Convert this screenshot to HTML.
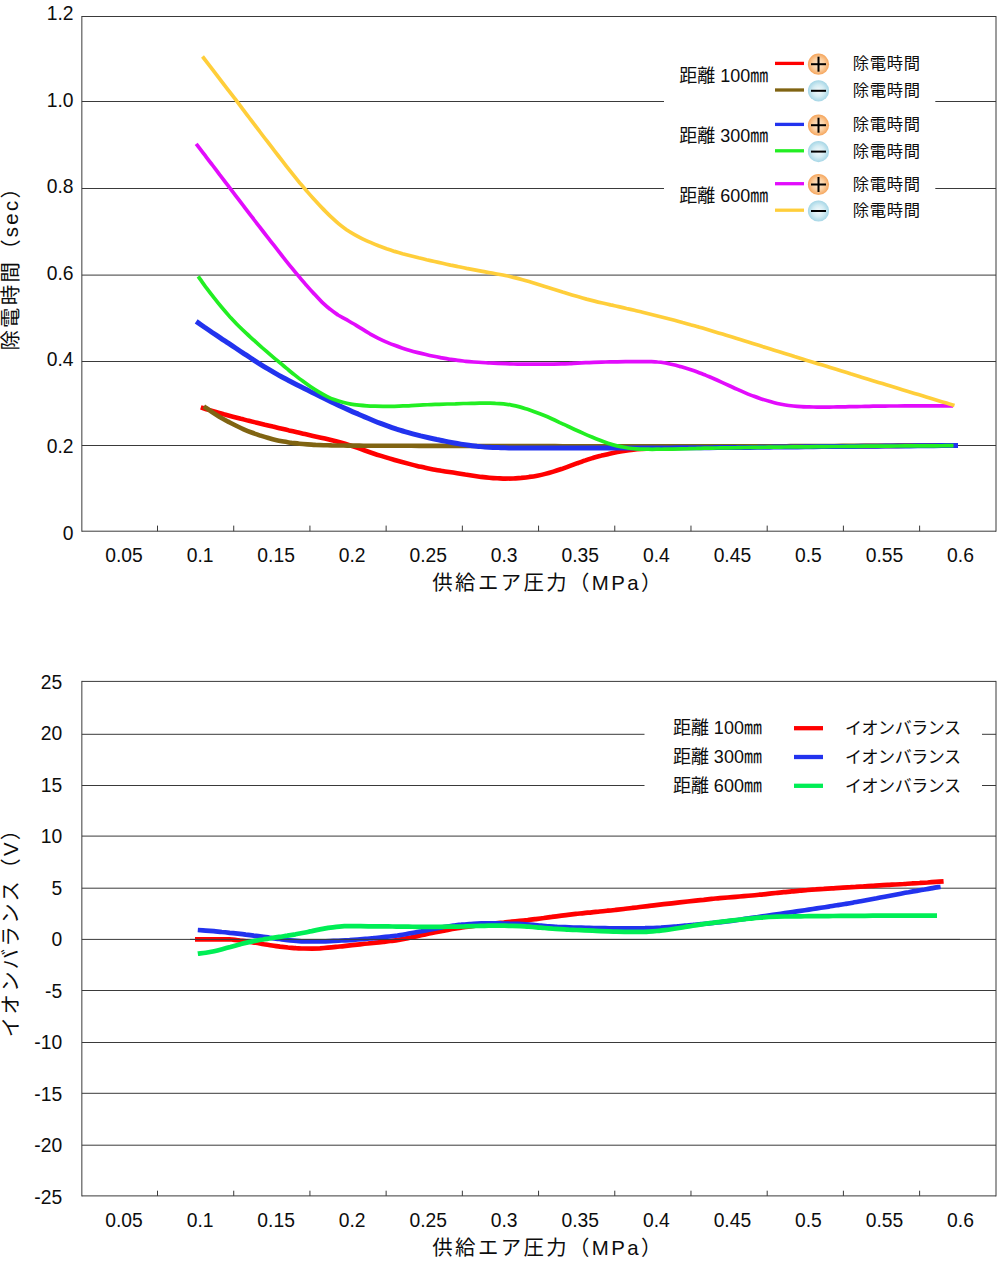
<!DOCTYPE html>
<html><head><meta charset="utf-8"><title>chart</title>
<style>
html,body{margin:0;padding:0;background:#fff;}
body{width:1000px;height:1265px;overflow:hidden;font-family:"Liberation Sans",sans-serif;}
svg{display:block;}
</style></head><body>
<svg width="1000" height="1265" viewBox="0 0 1000 1265">
<defs><radialGradient id="gp" cx="50%" cy="50%" r="50%"><stop offset="0" stop-color="#fee9d2"/><stop offset="0.55" stop-color="#fbd0a2"/><stop offset="1" stop-color="#f5a55c"/></radialGradient><radialGradient id="gm" cx="50%" cy="50%" r="50%"><stop offset="0" stop-color="#f5fbfd"/><stop offset="0.55" stop-color="#d4ecf3"/><stop offset="1" stop-color="#a5d6e6"/></radialGradient></defs>
<rect width="1000" height="1265" fill="#fff"/>
<line x1="81.85" y1="16.50" x2="996.00" y2="16.50" stroke="#3a3a3a" stroke-width="1.00"/>
<line x1="81.85" y1="101.50" x2="996.00" y2="101.50" stroke="#3a3a3a" stroke-width="1.00"/>
<line x1="81.85" y1="188.50" x2="996.00" y2="188.50" stroke="#3a3a3a" stroke-width="1.00"/>
<line x1="81.85" y1="275.10" x2="996.00" y2="275.10" stroke="#3a3a3a" stroke-width="1.00"/>
<line x1="81.85" y1="361.50" x2="996.00" y2="361.50" stroke="#3a3a3a" stroke-width="1.00"/>
<line x1="81.85" y1="445.50" x2="996.00" y2="445.50" stroke="#3a3a3a" stroke-width="1.00"/>
<line x1="81.85" y1="531.20" x2="996.00" y2="531.20" stroke="#3a3a3a" stroke-width="1.00"/>
<line x1="81.85" y1="16.00" x2="81.85" y2="531.70" stroke="#3a3a3a" stroke-width="1.00"/>
<line x1="996.00" y1="16.00" x2="996.00" y2="531.70" stroke="#3a3a3a" stroke-width="1.00"/>
<line x1="157.51" y1="525.60" x2="157.51" y2="531.20" stroke="#3a3a3a" stroke-width="1.00"/>
<line x1="233.72" y1="525.60" x2="233.72" y2="531.20" stroke="#3a3a3a" stroke-width="1.00"/>
<line x1="309.93" y1="525.60" x2="309.93" y2="531.20" stroke="#3a3a3a" stroke-width="1.00"/>
<line x1="386.14" y1="525.60" x2="386.14" y2="531.20" stroke="#3a3a3a" stroke-width="1.00"/>
<line x1="462.35" y1="525.60" x2="462.35" y2="531.20" stroke="#3a3a3a" stroke-width="1.00"/>
<line x1="538.56" y1="525.60" x2="538.56" y2="531.20" stroke="#3a3a3a" stroke-width="1.00"/>
<line x1="614.77" y1="525.60" x2="614.77" y2="531.20" stroke="#3a3a3a" stroke-width="1.00"/>
<line x1="690.98" y1="525.60" x2="690.98" y2="531.20" stroke="#3a3a3a" stroke-width="1.00"/>
<line x1="767.19" y1="525.60" x2="767.19" y2="531.20" stroke="#3a3a3a" stroke-width="1.00"/>
<line x1="843.40" y1="525.60" x2="843.40" y2="531.20" stroke="#3a3a3a" stroke-width="1.00"/>
<line x1="919.61" y1="525.60" x2="919.61" y2="531.20" stroke="#3a3a3a" stroke-width="1.00"/>
<line x1="81.85" y1="681.40" x2="996.00" y2="681.40" stroke="#3a3a3a" stroke-width="1.00"/>
<line x1="81.85" y1="734.30" x2="996.00" y2="734.30" stroke="#3a3a3a" stroke-width="1.00"/>
<line x1="81.85" y1="785.50" x2="996.00" y2="785.50" stroke="#3a3a3a" stroke-width="1.00"/>
<line x1="81.85" y1="836.10" x2="996.00" y2="836.10" stroke="#3a3a3a" stroke-width="1.00"/>
<line x1="81.85" y1="888.20" x2="996.00" y2="888.20" stroke="#3a3a3a" stroke-width="1.00"/>
<line x1="81.85" y1="939.40" x2="996.00" y2="939.40" stroke="#3a3a3a" stroke-width="1.00"/>
<line x1="81.85" y1="990.50" x2="996.00" y2="990.50" stroke="#3a3a3a" stroke-width="1.00"/>
<line x1="81.85" y1="1042.50" x2="996.00" y2="1042.50" stroke="#3a3a3a" stroke-width="1.00"/>
<line x1="81.85" y1="1093.30" x2="996.00" y2="1093.30" stroke="#3a3a3a" stroke-width="1.00"/>
<line x1="81.85" y1="1145.20" x2="996.00" y2="1145.20" stroke="#3a3a3a" stroke-width="1.00"/>
<line x1="81.85" y1="1195.90" x2="996.00" y2="1195.90" stroke="#3a3a3a" stroke-width="1.00"/>
<line x1="81.85" y1="680.90" x2="81.85" y2="1196.40" stroke="#3a3a3a" stroke-width="1.00"/>
<line x1="996.00" y1="680.90" x2="996.00" y2="1196.40" stroke="#3a3a3a" stroke-width="1.00"/>
<line x1="157.51" y1="1190.70" x2="157.51" y2="1195.90" stroke="#3a3a3a" stroke-width="1.00"/>
<line x1="233.72" y1="1190.70" x2="233.72" y2="1195.90" stroke="#3a3a3a" stroke-width="1.00"/>
<line x1="309.93" y1="1190.70" x2="309.93" y2="1195.90" stroke="#3a3a3a" stroke-width="1.00"/>
<line x1="386.14" y1="1190.70" x2="386.14" y2="1195.90" stroke="#3a3a3a" stroke-width="1.00"/>
<line x1="462.35" y1="1190.70" x2="462.35" y2="1195.90" stroke="#3a3a3a" stroke-width="1.00"/>
<line x1="538.56" y1="1190.70" x2="538.56" y2="1195.90" stroke="#3a3a3a" stroke-width="1.00"/>
<line x1="614.77" y1="1190.70" x2="614.77" y2="1195.90" stroke="#3a3a3a" stroke-width="1.00"/>
<line x1="690.98" y1="1190.70" x2="690.98" y2="1195.90" stroke="#3a3a3a" stroke-width="1.00"/>
<line x1="767.19" y1="1190.70" x2="767.19" y2="1195.90" stroke="#3a3a3a" stroke-width="1.00"/>
<line x1="843.40" y1="1190.70" x2="843.40" y2="1195.90" stroke="#3a3a3a" stroke-width="1.00"/>
<line x1="919.61" y1="1190.70" x2="919.61" y2="1195.90" stroke="#3a3a3a" stroke-width="1.00"/>
<g fill="#0d0d0d" font-family="'Liberation Sans', sans-serif" font-size="19.3"><text x="124.0" y="562.2" text-anchor="middle">0.05</text><text x="124.0" y="1227.2" text-anchor="middle">0.05</text><text x="200.1" y="562.2" text-anchor="middle">0.1</text><text x="200.1" y="1227.2" text-anchor="middle">0.1</text><text x="276.1" y="562.2" text-anchor="middle">0.15</text><text x="276.1" y="1227.2" text-anchor="middle">0.15</text><text x="352.1" y="562.2" text-anchor="middle">0.2</text><text x="352.1" y="1227.2" text-anchor="middle">0.2</text><text x="428.2" y="562.2" text-anchor="middle">0.25</text><text x="428.2" y="1227.2" text-anchor="middle">0.25</text><text x="504.2" y="562.2" text-anchor="middle">0.3</text><text x="504.2" y="1227.2" text-anchor="middle">0.3</text><text x="580.3" y="562.2" text-anchor="middle">0.35</text><text x="580.3" y="1227.2" text-anchor="middle">0.35</text><text x="656.4" y="562.2" text-anchor="middle">0.4</text><text x="656.4" y="1227.2" text-anchor="middle">0.4</text><text x="732.4" y="562.2" text-anchor="middle">0.45</text><text x="732.4" y="1227.2" text-anchor="middle">0.45</text><text x="808.4" y="562.2" text-anchor="middle">0.5</text><text x="808.4" y="1227.2" text-anchor="middle">0.5</text><text x="884.5" y="562.2" text-anchor="middle">0.55</text><text x="884.5" y="1227.2" text-anchor="middle">0.55</text><text x="960.5" y="562.2" text-anchor="middle">0.6</text><text x="960.5" y="1227.2" text-anchor="middle">0.6</text><text x="73.5" y="20.0" text-anchor="end">1.2</text><text x="73.5" y="106.6" text-anchor="end">1.0</text><text x="73.5" y="193.2" text-anchor="end">0.8</text><text x="73.5" y="279.8" text-anchor="end">0.6</text><text x="73.5" y="366.4" text-anchor="end">0.4</text><text x="73.5" y="453.0" text-anchor="end">0.2</text><text x="73.5" y="539.6" text-anchor="end">0</text><text x="62.2" y="688.7" text-anchor="end">25</text><text x="62.2" y="740.2" text-anchor="end">20</text><text x="62.2" y="791.7" text-anchor="end">15</text><text x="62.2" y="843.2" text-anchor="end">10</text><text x="62.2" y="894.7" text-anchor="end">5</text><text x="62.2" y="946.2" text-anchor="end">0</text><text x="62.2" y="997.7" text-anchor="end">-5</text><text x="62.2" y="1049.2" text-anchor="end">-10</text><text x="62.2" y="1100.7" text-anchor="end">-15</text><text x="62.2" y="1152.2" text-anchor="end">-20</text><text x="62.2" y="1203.7" text-anchor="end">-25</text></g>
<path d="M200.8 407.4C202.1 407.8 206.1 409.1 208.8 409.9C211.5 410.7 214.2 411.5 216.8 412.3C219.5 413.1 222.2 413.8 224.8 414.6C227.5 415.3 230.2 416.0 232.9 416.7C235.5 417.4 238.2 418.1 240.9 418.8C243.5 419.4 246.2 420.1 248.9 420.7C251.5 421.4 254.2 422.1 256.9 422.7C259.6 423.4 262.2 424.0 264.9 424.7C267.6 425.3 270.2 425.9 272.9 426.6C275.6 427.2 278.3 427.9 280.9 428.5C283.6 429.1 286.3 429.7 288.9 430.4C291.6 431.0 294.3 431.6 297.0 432.2C299.6 432.8 302.3 433.5 305.0 434.1C307.6 434.7 310.3 435.3 313.0 435.9C315.6 436.5 318.3 437.1 321.0 437.7C323.7 438.3 326.3 438.9 329.0 439.5C331.7 440.2 334.3 440.8 337.0 441.5C339.7 442.2 342.4 443.0 345.0 443.8C347.7 444.6 350.4 445.5 353.0 446.4C355.7 447.3 358.4 448.2 361.1 449.2C363.7 450.1 366.4 451.1 369.1 452.0C371.7 452.9 374.4 453.8 377.1 454.7C379.8 455.5 382.4 456.3 385.1 457.1C387.8 458.0 390.4 458.8 393.1 459.5C395.8 460.3 398.4 461.1 401.1 461.8C403.8 462.5 406.5 463.2 409.1 463.9C411.8 464.6 414.5 465.3 417.1 465.9C419.8 466.5 422.5 467.2 425.2 467.8C427.8 468.4 430.5 468.9 433.2 469.4C435.8 469.9 438.5 470.3 441.2 470.8C443.9 471.2 446.5 471.6 449.2 472.0C451.9 472.4 454.5 472.8 457.2 473.2C459.9 473.6 462.6 474.0 465.2 474.5C467.9 474.9 470.6 475.3 473.2 475.7C475.9 476.1 478.6 476.5 481.2 476.9C483.9 477.2 486.6 477.5 489.3 477.7C491.9 478.0 494.6 478.2 497.3 478.3C499.9 478.4 502.6 478.6 505.3 478.6C508.0 478.6 510.6 478.6 513.3 478.5C516.0 478.4 518.6 478.1 521.3 477.9C524.0 477.6 526.7 477.3 529.3 476.9C532.0 476.6 534.7 476.2 537.3 475.7C540.0 475.2 542.7 474.6 545.3 473.9C548.0 473.2 550.7 472.4 553.4 471.6C556.0 470.8 558.7 469.9 561.4 469.0C564.0 468.1 566.7 467.2 569.4 466.2C572.1 465.2 574.7 464.2 577.4 463.2C580.1 462.3 582.7 461.3 585.4 460.4C588.1 459.4 590.8 458.6 593.4 457.8C596.1 457.0 598.8 456.3 601.4 455.6C604.1 455.0 606.8 454.3 609.5 453.7C612.1 453.1 614.8 452.6 617.5 452.1C620.1 451.6 622.8 451.1 625.5 450.7C628.1 450.3 630.8 450.0 633.5 449.7C636.2 449.4 638.8 449.2 641.5 449.0C644.2 448.8 646.8 448.6 649.5 448.5C652.2 448.3 654.9 448.2 657.5 448.1C660.2 448.0 662.9 447.9 665.5 447.8C668.2 447.7 670.9 447.6 673.6 447.6C676.2 447.5 678.9 447.4 681.6 447.4C684.2 447.3 686.9 447.3 689.6 447.2C692.2 447.2 694.9 447.1 697.6 447.1C700.3 447.0 702.9 447.0 705.6 446.9C708.3 446.9 710.9 446.8 713.6 446.8C716.3 446.8 719.0 446.7 721.6 446.7C724.3 446.6 727.0 446.6 729.6 446.6C732.3 446.5 735.0 446.5 737.7 446.5C740.3 446.4 743.0 446.4 745.7 446.4C748.3 446.4 751.0 446.4 753.7 446.3C756.4 446.3 759.0 446.3 761.7 446.3C764.4 446.3 767.0 446.3 769.7 446.3C772.4 446.3 775.0 446.3 777.7 446.3C780.4 446.3 783.1 446.3 785.7 446.3C788.4 446.3 791.1 446.3 793.7 446.3C796.4 446.3 799.1 446.3 801.8 446.3C804.4 446.3 807.1 446.3 809.8 446.3C812.4 446.3 815.1 446.3 817.8 446.3C820.5 446.3 823.1 446.3 825.8 446.3C828.5 446.3 831.1 446.3 833.8 446.3C836.5 446.3 839.2 446.3 841.8 446.3C844.5 446.2 847.2 446.2 849.8 446.2C852.5 446.2 855.2 446.2 857.8 446.2C860.5 446.2 863.2 446.2 865.9 446.1C868.5 446.1 871.2 446.1 873.9 446.1C876.5 446.1 879.2 446.1 881.9 446.0C884.6 446.0 887.2 446.0 889.9 446.0C892.6 446.0 895.2 445.9 897.9 445.9C900.6 445.9 903.3 445.9 905.9 445.8C908.6 445.8 911.3 445.8 913.9 445.8C916.6 445.7 919.3 445.7 921.9 445.7C924.6 445.6 927.3 445.6 930.0 445.6C932.6 445.6 935.3 445.5 938.0 445.5C940.6 445.5 943.3 445.4 946.0 445.4C948.7 445.4 952.7 445.3 954.0 445.3" fill="none" stroke="#ff0000" stroke-width="4.60" stroke-linecap="butt" stroke-linejoin="round"/>
<path d="M203.8 406.3C205.1 407.2 209.1 410.1 211.7 411.9C214.4 413.7 217.1 415.4 219.7 417.0C222.4 418.5 225.0 419.9 227.7 421.4C230.4 422.8 233.0 424.2 235.7 425.5C238.3 426.8 241.0 428.1 243.7 429.3C246.3 430.4 249.0 431.5 251.6 432.5C254.3 433.5 257.0 434.4 259.6 435.3C262.3 436.2 264.9 437.1 267.6 437.8C270.3 438.6 272.9 439.4 275.6 440.0C278.2 440.6 280.9 441.1 283.6 441.6C286.2 442.1 288.9 442.4 291.5 442.8C294.2 443.1 296.9 443.5 299.5 443.7C302.2 444.0 304.8 444.2 307.5 444.4C310.2 444.6 312.8 444.7 315.5 444.9C318.1 445.0 320.8 445.1 323.5 445.2C326.1 445.3 328.8 445.3 331.5 445.4C334.1 445.4 336.8 445.5 339.4 445.5C342.1 445.5 344.8 445.6 347.4 445.6C350.1 445.6 352.7 445.6 355.4 445.6C358.1 445.6 360.7 445.7 363.4 445.7C366.0 445.7 368.7 445.7 371.4 445.7C374.0 445.7 376.7 445.7 379.3 445.7C382.0 445.7 384.7 445.8 387.3 445.8C390.0 445.8 392.6 445.8 395.3 445.8C398.0 445.8 400.6 445.8 403.3 445.8C405.9 445.8 408.6 445.8 411.3 445.8C413.9 445.8 416.6 445.8 419.2 445.9C421.9 445.9 424.6 445.9 427.2 445.9C429.9 445.9 432.5 445.9 435.2 445.9C437.9 445.9 440.5 445.9 443.2 445.9C445.9 445.9 448.5 445.9 451.2 445.9C453.8 445.9 456.5 445.9 459.2 445.9C461.8 445.9 464.5 446.0 467.1 446.0C469.8 446.0 472.5 446.0 475.1 446.0C477.8 446.0 480.4 446.0 483.1 446.0C485.8 446.0 488.4 446.0 491.1 446.0C493.7 446.0 496.4 446.0 499.1 446.0C501.7 446.0 504.4 446.0 507.0 446.0C509.7 446.1 512.4 446.1 515.0 446.1C517.7 446.1 520.3 446.1 523.0 446.1C525.7 446.1 528.3 446.1 531.0 446.1C533.6 446.1 536.3 446.1 539.0 446.1C541.6 446.1 544.3 446.1 546.9 446.1C549.6 446.1 552.3 446.1 554.9 446.1C557.6 446.2 560.3 446.2 562.9 446.2C565.6 446.2 568.2 446.2 570.9 446.2C573.6 446.2 576.2 446.2 578.9 446.2C581.5 446.2 584.2 446.2 586.9 446.2C589.5 446.2 592.2 446.2 594.8 446.2C597.5 446.2 600.2 446.2 602.8 446.2C605.5 446.2 608.1 446.2 610.8 446.2C613.5 446.2 616.1 446.2 618.8 446.2C621.4 446.2 624.1 446.3 626.8 446.3C629.4 446.3 632.1 446.3 634.7 446.3C637.4 446.3 640.1 446.3 642.7 446.3C645.4 446.3 648.0 446.3 650.7 446.3C653.4 446.3 656.0 446.3 658.7 446.3C661.3 446.3 664.0 446.3 666.7 446.3C669.3 446.3 672.0 446.3 674.7 446.3C677.3 446.3 680.0 446.3 682.6 446.3C685.3 446.3 688.0 446.3 690.6 446.3C693.3 446.3 695.9 446.3 698.6 446.3C701.3 446.3 703.9 446.3 706.6 446.3C709.2 446.3 711.9 446.3 714.6 446.3C717.2 446.3 719.9 446.3 722.5 446.3C725.2 446.3 727.9 446.3 730.5 446.3C733.2 446.3 735.8 446.3 738.5 446.3C741.2 446.3 743.8 446.3 746.5 446.3C749.1 446.3 751.8 446.2 754.5 446.2C757.1 446.2 759.8 446.2 762.4 446.2C765.1 446.2 767.8 446.2 770.4 446.2C773.1 446.2 775.7 446.2 778.4 446.2C781.1 446.2 783.7 446.2 786.4 446.2C789.1 446.2 791.7 446.1 794.4 446.1C797.0 446.1 799.7 446.1 802.4 446.1C805.0 446.1 807.7 446.1 810.3 446.1C813.0 446.1 815.7 446.1 818.3 446.0C821.0 446.0 823.6 446.0 826.3 446.0C829.0 446.0 831.6 446.0 834.3 446.0C836.9 446.0 839.6 446.0 842.3 445.9C844.9 445.9 847.6 445.9 850.2 445.9C852.9 445.9 855.6 445.9 858.2 445.9C860.9 445.9 863.5 445.8 866.2 445.8C868.9 445.8 871.5 445.8 874.2 445.8C876.8 445.8 879.5 445.8 882.2 445.7C884.8 445.7 887.5 445.7 890.1 445.7C892.8 445.7 895.5 445.7 898.1 445.6C900.8 445.6 903.5 445.6 906.1 445.6C908.8 445.6 911.4 445.6 914.1 445.6C916.8 445.5 919.4 445.5 922.1 445.5C924.7 445.5 927.4 445.5 930.1 445.5C932.7 445.4 935.4 445.4 938.0 445.4C940.7 445.4 943.4 445.4 946.0 445.4C948.7 445.3 952.7 445.3 954.0 445.3" fill="none" stroke="#806412" stroke-width="4.60" stroke-linecap="butt" stroke-linejoin="round"/>
<path d="M196.2 321.4C197.5 322.3 201.5 325.1 204.2 327.0C206.9 328.8 209.6 330.6 212.2 332.5C214.9 334.3 217.6 336.1 220.3 337.9C222.9 339.7 225.6 341.4 228.3 343.2C230.9 345.0 233.6 346.8 236.3 348.5C239.0 350.3 241.6 352.1 244.3 353.9C247.0 355.6 249.7 357.4 252.3 359.1C255.0 360.9 257.7 362.6 260.4 364.3C263.0 366.0 265.7 367.6 268.4 369.2C271.0 370.8 273.7 372.4 276.4 373.9C279.1 375.4 281.7 376.9 284.4 378.3C287.1 379.8 289.8 381.1 292.4 382.5C295.1 383.9 297.8 385.3 300.4 386.6C303.1 388.0 305.8 389.3 308.5 390.6C311.1 392.0 313.8 393.3 316.5 394.6C319.2 396.0 321.8 397.3 324.5 398.6C327.2 399.9 329.8 401.2 332.5 402.5C335.2 403.7 337.9 405.0 340.5 406.2C343.2 407.5 345.9 408.7 348.6 409.9C351.2 411.1 353.9 412.3 356.6 413.4C359.3 414.6 361.9 415.8 364.6 416.9C367.3 418.0 369.9 419.1 372.6 420.2C375.3 421.3 378.0 422.4 380.6 423.4C383.3 424.4 386.0 425.4 388.7 426.3C391.3 427.3 394.0 428.2 396.7 429.1C399.3 429.9 402.0 430.8 404.7 431.6C407.4 432.4 410.0 433.1 412.7 433.8C415.4 434.5 418.1 435.2 420.7 435.9C423.4 436.5 426.1 437.1 428.7 437.7C431.4 438.3 434.1 438.9 436.8 439.5C439.4 440.0 442.1 440.6 444.8 441.1C447.5 441.7 450.1 442.2 452.8 442.7C455.5 443.2 458.2 443.7 460.8 444.1C463.5 444.5 466.2 444.9 468.8 445.3C471.5 445.7 474.2 446.0 476.9 446.3C479.5 446.5 482.2 446.8 484.9 447.0C487.6 447.1 490.2 447.3 492.9 447.4C495.6 447.6 498.2 447.6 500.9 447.7C503.6 447.8 506.3 447.8 508.9 447.9C511.6 447.9 514.3 447.9 517.0 448.0C519.6 448.0 522.3 448.0 525.0 448.0C527.6 448.0 530.3 448.0 533.0 448.0C535.7 448.0 538.3 448.0 541.0 448.0C543.7 448.0 546.4 448.0 549.0 448.0C551.7 448.0 554.4 448.0 557.1 448.0C559.7 448.0 562.4 448.0 565.1 448.0C567.7 448.0 570.4 448.0 573.1 448.0C575.8 448.0 578.4 448.0 581.1 448.0C583.8 448.0 586.5 448.0 589.1 448.0C591.8 448.0 594.5 448.0 597.1 448.0C599.8 448.0 602.5 448.0 605.2 448.0C607.8 448.0 610.5 448.0 613.2 448.0C615.9 448.0 618.5 448.0 621.2 448.0C623.9 448.0 626.6 448.0 629.2 448.0C631.9 448.0 634.6 448.0 637.2 448.0C639.9 448.0 642.6 448.0 645.3 448.0C647.9 447.9 650.6 447.9 653.3 447.9C656.0 447.9 658.6 447.9 661.3 447.9C664.0 447.9 666.6 447.9 669.3 447.9C672.0 447.9 674.7 447.9 677.3 447.8C680.0 447.8 682.7 447.8 685.4 447.8C688.0 447.8 690.7 447.8 693.4 447.8C696.0 447.8 698.7 447.8 701.4 447.7C704.1 447.7 706.7 447.7 709.4 447.7C712.1 447.7 714.8 447.7 717.4 447.6C720.1 447.6 722.8 447.6 725.5 447.6C728.1 447.5 730.8 447.5 733.5 447.5C736.1 447.5 738.8 447.5 741.5 447.4C744.2 447.4 746.8 447.4 749.5 447.4C752.2 447.3 754.9 447.3 757.5 447.3C760.2 447.2 762.9 447.2 765.5 447.2C768.2 447.2 770.9 447.1 773.6 447.1C776.2 447.1 778.9 447.1 781.6 447.0C784.3 447.0 786.9 447.0 789.6 446.9C792.3 446.9 794.9 446.9 797.6 446.9C800.3 446.8 803.0 446.8 805.6 446.8C808.3 446.8 811.0 446.7 813.7 446.7C816.3 446.7 819.0 446.7 821.7 446.6C824.4 446.6 827.0 446.6 829.7 446.6C832.4 446.6 835.0 446.5 837.7 446.5C840.4 446.5 843.1 446.5 845.7 446.4C848.4 446.4 851.1 446.4 853.8 446.4C856.4 446.3 859.1 446.3 861.8 446.3C864.4 446.3 867.1 446.3 869.8 446.2C872.5 446.2 875.1 446.2 877.8 446.2C880.5 446.1 883.2 446.1 885.8 446.1C888.5 446.1 891.2 446.1 893.8 446.0C896.5 446.0 899.2 446.0 901.9 446.0C904.5 445.9 907.2 445.9 909.9 445.9C912.6 445.9 915.2 445.9 917.9 445.8C920.6 445.8 923.3 445.8 925.9 445.8C928.6 445.7 931.3 445.7 933.9 445.7C936.6 445.7 939.3 445.7 942.0 445.6C944.6 445.6 947.3 445.6 950.0 445.6C952.7 445.5 956.7 445.5 958.0 445.5" fill="none" stroke="#2233ee" stroke-width="5.00" stroke-linecap="butt" stroke-linejoin="round"/>
<path d="M198.2 276.4C199.5 278.3 203.6 284.0 206.2 287.7C208.9 291.3 211.6 294.8 214.3 298.2C216.9 301.6 219.6 304.9 222.3 308.0C225.0 311.2 227.7 314.3 230.3 317.3C233.0 320.2 235.7 323.1 238.4 325.8C241.1 328.5 243.7 330.9 246.4 333.4C249.1 335.9 251.8 338.3 254.4 340.7C257.1 343.1 259.8 345.6 262.5 348.0C265.2 350.3 267.8 352.6 270.5 354.9C273.2 357.2 275.9 359.4 278.6 361.7C281.2 364.0 283.9 366.2 286.6 368.4C289.3 370.6 291.9 372.8 294.6 374.9C297.3 377.0 300.0 379.1 302.7 381.1C305.3 383.1 308.0 385.0 310.7 386.8C313.4 388.6 316.0 390.2 318.7 391.8C321.4 393.4 324.1 395.0 326.8 396.3C329.4 397.6 332.1 398.8 334.8 399.8C337.5 400.8 340.2 401.6 342.8 402.3C345.5 403.0 348.2 403.6 350.9 404.1C353.5 404.6 356.2 404.9 358.9 405.2C361.6 405.5 364.3 405.7 366.9 405.8C369.6 406.0 372.3 406.1 375.0 406.2C377.7 406.3 380.3 406.3 383.0 406.3C385.7 406.4 388.4 406.4 391.0 406.3C393.7 406.3 396.4 406.2 399.1 406.1C401.8 406.0 404.4 405.9 407.1 405.8C409.8 405.6 412.5 405.5 415.1 405.3C417.8 405.2 420.5 405.1 423.2 404.9C425.9 404.8 428.5 404.7 431.2 404.6C433.9 404.5 436.6 404.4 439.3 404.3C441.9 404.2 444.6 404.1 447.3 404.0C450.0 403.9 452.6 403.8 455.3 403.8C458.0 403.7 460.7 403.6 463.4 403.5C466.0 403.5 468.7 403.4 471.4 403.3C474.1 403.3 476.8 403.2 479.4 403.1C482.1 403.1 484.8 403.0 487.5 403.0C490.1 403.1 492.8 403.1 495.5 403.3C498.2 403.4 500.9 403.6 503.5 403.9C506.2 404.2 508.9 404.6 511.6 405.1C514.2 405.6 516.9 406.2 519.6 406.9C522.3 407.6 525.0 408.5 527.6 409.3C530.3 410.2 533.0 411.2 535.7 412.2C538.4 413.2 541.0 414.2 543.7 415.3C546.4 416.4 549.1 417.6 551.7 418.8C554.4 420.0 557.1 421.3 559.8 422.6C562.5 423.8 565.1 425.1 567.8 426.3C570.5 427.5 573.2 428.8 575.8 430.0C578.5 431.2 581.2 432.4 583.9 433.6C586.6 434.8 589.2 435.9 591.9 437.0C594.6 438.2 597.3 439.3 600.0 440.3C602.6 441.4 605.3 442.4 608.0 443.3C610.7 444.2 613.3 445.0 616.0 445.6C618.7 446.3 621.4 446.8 624.1 447.3C626.7 447.8 629.4 448.2 632.1 448.5C634.8 448.8 637.5 449.0 640.1 449.1C642.8 449.3 645.5 449.2 648.2 449.2C650.8 449.3 653.5 449.3 656.2 449.2C658.9 449.2 661.6 449.3 664.2 449.2C666.9 449.2 669.6 449.2 672.3 449.1C674.9 449.0 677.6 448.9 680.3 448.8C683.0 448.7 685.7 448.6 688.3 448.6C691.0 448.5 693.7 448.4 696.4 448.4C699.1 448.3 701.7 448.3 704.4 448.2C707.1 448.2 709.8 448.1 712.4 448.1C715.1 448.0 717.8 448.0 720.5 447.9C723.2 447.9 725.8 447.8 728.5 447.8C731.2 447.7 733.9 447.7 736.6 447.7C739.2 447.6 741.9 447.6 744.6 447.5C747.3 447.5 749.9 447.5 752.6 447.4C755.3 447.4 758.0 447.3 760.7 447.3C763.3 447.3 766.0 447.2 768.7 447.2C771.4 447.2 774.0 447.1 776.7 447.1C779.4 447.1 782.1 447.0 784.8 447.0C787.4 447.0 790.1 447.0 792.8 446.9C795.5 446.9 798.2 446.9 800.8 446.8C803.5 446.8 806.2 446.8 808.9 446.8C811.5 446.7 814.2 446.7 816.9 446.7C819.6 446.7 822.3 446.6 824.9 446.6C827.6 446.6 830.3 446.6 833.0 446.5C835.7 446.5 838.3 446.5 841.0 446.5C843.7 446.4 846.4 446.4 849.0 446.4C851.7 446.4 854.4 446.3 857.1 446.3C859.8 446.3 862.4 446.3 865.1 446.2C867.8 446.2 870.5 446.2 873.1 446.2C875.8 446.2 878.5 446.1 881.2 446.1C883.9 446.1 886.5 446.1 889.2 446.1C891.9 446.0 894.6 446.0 897.3 446.0C899.9 446.0 902.6 446.0 905.3 445.9C908.0 445.9 910.6 445.9 913.3 445.9C916.0 445.9 918.7 445.9 921.4 445.8C924.0 445.8 926.7 445.8 929.4 445.8C932.1 445.8 934.8 445.8 937.4 445.8C940.1 445.8 942.8 445.7 945.5 445.7C948.1 445.7 952.2 445.7 953.5 445.7" fill="none" stroke="#22ee22" stroke-width="3.70" stroke-linecap="butt" stroke-linejoin="round"/>
<path d="M196.2 143.8C197.5 145.5 201.5 150.7 204.1 154.2C206.7 157.6 209.3 161.1 212.0 164.5C214.6 168.0 217.2 171.4 219.8 174.9C222.5 178.3 225.1 181.8 227.7 185.2C230.3 188.7 233.0 192.1 235.6 195.6C238.2 199.0 240.8 202.5 243.5 205.9C246.1 209.4 248.7 212.8 251.3 216.2C254.0 219.6 256.6 223.0 259.2 226.4C261.8 229.8 264.5 233.2 267.1 236.6C269.7 240.0 272.4 243.4 275.0 246.7C277.6 250.1 280.2 253.5 282.9 256.8C285.5 260.1 288.1 263.4 290.7 266.6C293.4 269.8 296.0 273.0 298.6 276.2C301.2 279.3 303.9 282.4 306.5 285.4C309.1 288.4 311.7 291.3 314.4 294.1C317.0 297.0 319.6 299.8 322.2 302.3C324.9 304.8 327.5 307.1 330.1 309.2C332.7 311.4 336.7 314.1 338.0 315.0C339.3 315.7 343.3 317.9 346.0 319.4C348.6 320.9 351.3 322.5 354.0 324.0C356.6 325.6 359.3 327.3 362.0 328.9C364.6 330.5 367.3 332.2 369.9 333.8C372.6 335.3 375.3 336.9 377.9 338.2C380.6 339.6 383.3 340.8 385.9 341.9C388.6 343.0 391.2 344.1 393.9 345.1C396.6 346.1 399.2 347.0 401.9 347.9C404.6 348.8 407.2 349.6 409.9 350.4C412.5 351.2 415.2 351.9 417.9 352.6C420.5 353.3 423.2 353.9 425.9 354.5C428.5 355.2 431.2 355.8 433.8 356.3C436.5 356.9 439.2 357.4 441.8 357.9C444.5 358.4 447.2 358.9 449.8 359.3C452.5 359.7 455.1 360.1 457.8 360.4C460.5 360.8 463.1 361.0 465.8 361.3C468.5 361.6 471.1 361.8 473.8 362.0C476.4 362.2 479.1 362.4 481.8 362.5C484.4 362.7 487.1 362.8 489.8 363.0C492.4 363.1 495.1 363.3 497.7 363.4C500.4 363.5 503.1 363.6 505.7 363.7C508.4 363.8 511.1 363.9 513.7 364.0C516.4 364.0 519.0 364.1 521.7 364.1C524.4 364.1 527.0 364.2 529.7 364.2C532.4 364.2 535.0 364.2 537.7 364.2C540.3 364.2 543.0 364.2 545.7 364.2C548.3 364.2 551.0 364.1 553.6 364.1C556.3 364.0 559.0 363.9 561.6 363.8C564.3 363.8 567.0 363.7 569.6 363.6C572.3 363.4 574.9 363.3 577.6 363.1C580.3 363.0 582.9 362.8 585.6 362.7C588.3 362.6 590.9 362.5 593.6 362.4C596.2 362.3 598.9 362.2 601.6 362.1C604.2 362.0 606.9 362.0 609.6 361.9C612.2 361.8 614.9 361.8 617.5 361.8C620.2 361.7 622.9 361.7 625.5 361.7C628.2 361.7 630.9 361.6 633.5 361.6C636.2 361.6 638.8 361.6 641.5 361.6C644.2 361.6 646.8 361.6 649.5 361.6C652.2 361.7 654.8 361.7 657.5 362.0C660.1 362.2 662.8 362.6 665.5 363.0C668.1 363.5 670.8 364.1 673.5 364.7C676.1 365.3 678.8 366.1 681.4 366.8C684.1 367.6 686.8 368.4 689.4 369.2C692.1 370.1 694.8 371.0 697.4 372.0C700.1 373.0 702.7 374.1 705.4 375.1C708.1 376.2 710.7 377.4 713.4 378.5C716.1 379.7 718.7 380.9 721.4 382.1C724.0 383.3 726.7 384.5 729.4 385.7C732.0 386.9 734.7 388.2 737.4 389.4C740.0 390.6 742.7 391.8 745.3 392.9C748.0 394.1 750.7 395.1 753.3 396.1C756.0 397.1 758.6 398.0 761.3 398.9C764.0 399.8 766.6 400.6 769.3 401.3C772.0 402.1 774.6 402.9 777.3 403.5C779.9 404.1 782.6 404.6 785.3 405.0C787.9 405.4 790.6 405.7 793.3 406.0C795.9 406.3 798.6 406.5 801.2 406.6C803.9 406.8 806.6 406.8 809.2 406.9C811.9 407.0 814.6 407.0 817.2 407.1C819.9 407.1 822.5 407.1 825.2 407.1C827.9 407.1 830.5 407.0 833.2 407.0C835.9 407.0 838.5 406.9 841.2 406.9C843.8 406.8 846.5 406.8 849.2 406.7C851.8 406.7 854.5 406.6 857.2 406.6C859.8 406.5 862.5 406.5 865.1 406.4C867.8 406.3 870.5 406.3 873.1 406.2C875.8 406.2 878.5 406.1 881.1 406.1C883.8 406.1 886.4 406.0 889.1 406.0C891.8 406.0 894.4 406.0 897.1 406.0C899.8 405.9 902.4 405.9 905.1 405.9C907.7 405.9 910.4 405.9 913.1 405.9C915.7 405.9 918.4 405.9 921.1 405.9C923.7 405.8 926.4 405.8 929.0 405.8C931.7 405.8 934.4 405.8 937.0 405.8C939.7 405.8 942.4 405.8 945.0 405.8C947.7 405.8 951.7 405.8 953.0 405.8" fill="none" stroke="#e20cfc" stroke-width="3.70" stroke-linecap="butt" stroke-linejoin="round"/>
<path d="M202.5 56.5C203.8 58.2 207.8 63.4 210.5 66.9C213.2 70.4 215.8 73.8 218.5 77.3C221.2 80.8 223.8 84.3 226.5 87.8C229.2 91.2 231.8 94.7 234.5 98.2C237.2 101.7 239.8 105.2 242.5 108.8C245.2 112.3 247.8 115.8 250.5 119.4C253.2 122.9 255.8 126.4 258.5 129.9C261.2 133.5 263.8 137.0 266.5 140.4C269.2 143.9 271.8 147.4 274.5 150.8C277.2 154.3 279.8 157.7 282.5 161.2C285.2 164.6 287.8 168.0 290.5 171.4C293.2 174.7 295.8 178.0 298.5 181.3C301.2 184.5 303.8 187.7 306.5 190.8C309.2 193.9 311.8 196.9 314.5 199.8C317.2 202.8 319.8 205.6 322.5 208.4C325.2 211.1 327.8 213.8 330.5 216.4C333.2 218.9 335.8 221.4 338.5 223.7C341.2 225.9 343.8 227.9 346.5 229.8C349.2 231.6 351.8 233.1 354.5 234.6C357.2 236.1 359.8 237.5 362.5 238.8C365.2 240.1 367.8 241.3 370.5 242.4C373.2 243.6 375.8 244.7 378.5 245.8C381.2 246.8 383.8 247.8 386.5 248.8C389.2 249.7 391.8 250.5 394.5 251.4C397.2 252.2 399.8 252.9 402.5 253.7C405.2 254.4 407.8 255.1 410.5 255.8C413.2 256.5 415.8 257.1 418.5 257.8C421.2 258.4 423.8 259.0 426.5 259.7C429.2 260.3 431.8 260.9 434.5 261.5C437.2 262.1 439.8 262.7 442.5 263.3C445.2 263.9 447.8 264.5 450.5 265.1C453.2 265.6 455.8 266.2 458.5 266.7C461.2 267.3 463.8 267.8 466.5 268.4C469.2 268.9 471.8 269.4 474.5 269.9C477.2 270.4 479.8 270.9 482.5 271.4C485.2 271.9 487.8 272.3 490.5 272.8C493.2 273.3 495.8 273.7 498.5 274.2C501.2 274.7 503.8 275.2 506.5 275.8C509.2 276.3 511.8 277.0 514.5 277.6C517.2 278.3 519.8 279.0 522.5 279.7C525.2 280.4 527.8 281.2 530.5 282.0C533.2 282.8 535.8 283.6 538.5 284.4C541.2 285.2 543.8 286.1 546.5 286.9C549.2 287.7 551.8 288.6 554.5 289.4C557.2 290.3 559.8 291.1 562.5 292.0C565.2 292.8 567.8 293.7 570.5 294.5C573.2 295.3 575.8 296.1 578.5 296.8C581.2 297.6 583.8 298.3 586.5 299.1C589.2 299.8 591.8 300.4 594.5 301.1C597.2 301.8 599.8 302.4 602.5 303.0C605.2 303.6 607.8 304.2 610.5 304.9C613.2 305.5 615.8 306.0 618.5 306.6C621.2 307.2 623.8 307.8 626.5 308.5C629.2 309.1 631.8 309.7 634.5 310.3C637.2 310.9 639.8 311.6 642.5 312.2C645.2 312.9 647.8 313.5 650.5 314.2C653.2 314.9 655.8 315.5 658.5 316.2C661.2 316.9 663.8 317.5 666.5 318.2C669.2 318.9 671.8 319.6 674.5 320.3C677.2 321.0 679.8 321.7 682.5 322.5C685.2 323.2 687.8 323.9 690.5 324.7C693.2 325.4 695.8 326.2 698.5 326.9C701.2 327.7 703.8 328.5 706.5 329.3C709.2 330.1 711.8 330.9 714.5 331.7C717.2 332.5 719.8 333.3 722.5 334.1C725.2 335.0 727.8 335.8 730.5 336.6C733.2 337.4 735.8 338.3 738.5 339.1C741.2 339.9 743.8 340.8 746.5 341.6C749.2 342.4 751.8 343.3 754.5 344.1C757.2 344.9 759.8 345.7 762.5 346.6C765.2 347.4 767.8 348.2 770.5 349.0C773.2 349.9 775.8 350.7 778.5 351.5C781.2 352.3 783.8 353.2 786.5 354.0C789.2 354.8 791.8 355.6 794.5 356.5C797.2 357.3 799.8 358.1 802.5 358.9C805.2 359.8 807.8 360.6 810.5 361.4C813.2 362.2 815.8 363.1 818.5 363.9C821.2 364.7 823.8 365.5 826.5 366.3C829.2 367.2 831.8 368.0 834.5 368.8C837.2 369.6 839.8 370.5 842.5 371.3C845.2 372.1 847.8 372.9 850.5 373.8C853.2 374.6 855.8 375.4 858.5 376.2C861.2 377.1 863.8 377.9 866.5 378.7C869.2 379.5 871.8 380.4 874.5 381.2C877.2 382.0 879.8 382.8 882.5 383.6C885.2 384.5 887.8 385.3 890.5 386.1C893.2 386.9 895.8 387.7 898.5 388.5C901.2 389.4 903.8 390.2 906.5 391.0C909.2 391.8 911.8 392.6 914.5 393.4C917.2 394.2 919.8 395.0 922.5 395.8C925.2 396.7 927.8 397.5 930.5 398.3C933.2 399.1 935.8 399.9 938.5 400.7C941.2 401.5 943.8 402.3 946.5 403.1C949.2 403.9 953.2 405.1 954.5 405.5" fill="none" stroke="#ffce3a" stroke-width="3.70" stroke-linecap="butt" stroke-linejoin="round"/>
<path d="M195.0 939.4C196.2 939.4 199.9 939.4 202.4 939.4C204.9 939.4 207.3 939.4 209.8 939.4C212.3 939.4 214.7 939.4 217.2 939.4C219.7 939.4 222.1 939.4 224.6 939.4C227.1 939.4 230.8 939.5 232.0 939.5C233.3 939.7 237.3 940.1 240.0 940.5C242.7 940.8 245.3 941.1 248.0 941.5C250.7 941.9 253.3 942.4 256.0 942.8C258.7 943.3 261.3 943.7 264.0 944.2C266.6 944.6 269.3 945.1 272.0 945.5C274.6 945.9 277.3 946.2 280.0 946.6C282.6 946.9 285.3 947.2 288.0 947.5C290.6 947.7 293.3 948.0 296.0 948.2C298.6 948.3 301.3 948.5 304.0 948.5C306.6 948.6 309.3 948.6 312.0 948.6C314.6 948.5 317.3 948.4 320.0 948.3C322.6 948.1 325.3 947.9 327.9 947.7C330.6 947.5 333.3 947.2 335.9 946.9C338.6 946.6 341.3 946.4 343.9 946.1C346.6 945.8 349.3 945.5 351.9 945.2C354.6 944.9 357.3 944.6 359.9 944.3C362.6 944.0 365.3 943.7 367.9 943.5C370.6 943.2 373.3 942.9 375.9 942.6C378.6 942.4 381.2 942.1 383.9 941.8C386.6 941.5 389.2 941.2 391.9 940.8C394.6 940.5 397.2 940.1 399.9 939.6C402.6 939.2 405.2 938.7 407.9 938.1C410.6 937.6 413.2 937.0 415.9 936.4C418.6 935.8 421.2 935.2 423.9 934.7C426.6 934.1 429.2 933.5 431.9 933.0C434.6 932.4 437.2 931.9 439.9 931.4C442.5 930.9 445.2 930.4 447.9 929.9C450.5 929.4 453.2 928.9 455.9 928.5C458.5 928.1 461.2 927.6 463.9 927.2C466.5 926.8 469.2 926.5 471.9 926.1C474.5 925.7 477.2 925.4 479.9 925.1C482.5 924.8 485.2 924.5 487.9 924.2C490.5 923.9 493.2 923.6 495.9 923.3C498.5 923.0 501.2 922.7 503.8 922.5C506.5 922.2 509.2 922.0 511.8 921.7C514.5 921.5 517.2 921.2 519.8 920.9C522.5 920.7 525.2 920.4 527.8 920.1C530.5 919.7 533.2 919.4 535.8 919.1C538.5 918.7 541.2 918.3 543.8 918.0C546.5 917.6 549.2 917.2 551.8 916.9C554.5 916.5 557.2 916.1 559.8 915.8C562.5 915.5 565.1 915.1 567.8 914.8C570.5 914.5 573.1 914.2 575.8 913.9C578.5 913.6 581.1 913.4 583.8 913.1C586.5 912.8 589.1 912.6 591.8 912.3C594.5 912.0 597.1 911.8 599.8 911.5C602.5 911.3 605.1 911.0 607.8 910.7C610.5 910.5 613.1 910.2 615.8 909.9C618.4 909.6 621.1 909.3 623.8 909.0C626.4 908.7 629.1 908.3 631.8 908.0C634.4 907.7 637.1 907.4 639.8 907.0C642.4 906.7 645.1 906.4 647.8 906.1C650.4 905.8 653.1 905.4 655.8 905.1C658.4 904.8 661.1 904.5 663.8 904.2C666.4 903.9 669.1 903.6 671.8 903.3C674.4 903.0 677.1 902.7 679.7 902.4C682.4 902.1 685.1 901.8 687.7 901.5C690.4 901.2 693.1 900.9 695.7 900.6C698.4 900.3 701.1 900.0 703.7 899.8C706.4 899.5 709.1 899.2 711.7 898.9C714.4 898.6 717.1 898.4 719.7 898.1C722.4 897.9 725.1 897.7 727.7 897.5C730.4 897.3 733.1 897.1 735.7 896.8C738.4 896.6 741.0 896.4 743.7 896.2C746.4 896.0 749.0 895.8 751.7 895.5C754.4 895.3 757.0 895.0 759.7 894.7C762.4 894.4 765.0 894.2 767.7 893.9C770.4 893.6 773.0 893.3 775.7 893.0C778.4 892.7 781.0 892.5 783.7 892.2C786.4 891.9 789.0 891.7 791.7 891.4C794.4 891.2 797.0 890.9 799.7 890.7C802.3 890.5 805.0 890.2 807.7 890.0C810.3 889.8 813.0 889.6 815.7 889.4C818.3 889.2 821.0 889.0 823.7 888.9C826.3 888.7 829.0 888.5 831.7 888.3C834.3 888.1 837.0 888.0 839.7 887.8C842.3 887.7 845.0 887.5 847.7 887.3C850.3 887.2 853.0 887.0 855.6 886.9C858.3 886.7 861.0 886.5 863.6 886.4C866.3 886.2 869.0 886.1 871.6 885.9C874.3 885.7 877.0 885.6 879.6 885.4C882.3 885.3 885.0 885.1 887.6 884.9C890.3 884.8 893.0 884.6 895.6 884.5C898.3 884.3 901.0 884.1 903.6 884.0C906.3 883.8 909.0 883.7 911.6 883.5C914.3 883.3 916.9 883.1 919.6 883.0C922.3 882.8 924.9 882.6 927.6 882.5C930.3 882.3 932.9 882.1 935.6 881.9C938.3 881.8 942.3 881.5 943.6 881.4" fill="none" stroke="#ff0000" stroke-width="4.70" stroke-linecap="butt" stroke-linejoin="round"/>
<path d="M197.8 930.0C199.1 930.1 203.1 930.4 205.8 930.6C208.4 930.8 211.1 931.0 213.8 931.2C216.4 931.5 219.1 931.7 221.8 932.0C224.4 932.2 227.1 932.5 229.7 932.8C232.4 933.0 235.1 933.3 237.7 933.6C240.4 933.9 243.1 934.2 245.7 934.6C248.4 934.9 251.0 935.2 253.7 935.6C256.4 935.9 259.0 936.2 261.7 936.6C264.4 937.0 267.0 937.3 269.7 937.7C272.3 938.1 275.0 938.5 277.7 938.8C280.3 939.2 283.0 939.5 285.7 939.9C288.3 940.2 291.0 940.5 293.6 940.7C296.3 940.9 299.0 941.1 301.6 941.3C304.3 941.4 307.0 941.5 309.6 941.5C312.3 941.5 314.9 941.5 317.6 941.5C320.3 941.4 322.9 941.4 325.6 941.3C328.3 941.2 330.9 941.1 333.6 940.9C336.2 940.8 338.9 940.7 341.6 940.5C344.2 940.4 346.9 940.2 349.6 940.1C352.2 939.9 354.9 939.7 357.5 939.5C360.2 939.3 362.9 939.1 365.5 938.9C368.2 938.7 370.9 938.4 373.5 938.2C376.2 937.9 378.8 937.7 381.5 937.4C384.2 937.1 386.8 936.8 389.5 936.5C392.2 936.2 394.8 935.8 397.5 935.5C400.1 935.1 402.8 934.7 405.5 934.2C408.1 933.8 410.8 933.3 413.5 932.8C416.1 932.3 418.8 931.8 421.4 931.3C424.1 930.7 426.8 930.2 429.4 929.7C432.1 929.1 434.8 928.6 437.4 928.1C440.1 927.7 442.7 927.2 445.4 926.8C448.1 926.4 450.7 926.0 453.4 925.6C456.0 925.3 458.7 924.9 461.4 924.7C464.0 924.4 466.7 924.2 469.4 924.0C472.0 923.8 474.7 923.7 477.3 923.5C480.0 923.4 482.7 923.4 485.3 923.3C488.0 923.3 490.7 923.3 493.3 923.3C496.0 923.3 498.6 923.3 501.3 923.4C504.0 923.4 506.6 923.5 509.3 923.6C512.0 923.6 514.6 923.7 517.3 923.9C519.9 924.0 522.6 924.1 525.3 924.3C527.9 924.5 530.6 924.7 533.3 924.9C535.9 925.1 538.6 925.4 541.2 925.6C543.9 925.8 546.6 926.1 549.2 926.3C551.9 926.5 554.6 926.6 557.2 926.8C559.9 926.9 562.5 927.1 565.2 927.2C567.9 927.3 570.5 927.4 573.2 927.5C575.9 927.6 578.5 927.6 581.2 927.7C583.8 927.8 586.5 927.9 589.2 927.9C591.8 928.0 594.5 928.1 597.2 928.1C599.8 928.1 602.5 928.2 605.1 928.2C607.8 928.2 610.5 928.3 613.1 928.3C615.8 928.3 618.5 928.3 621.1 928.3C623.8 928.3 626.4 928.3 629.1 928.3C631.8 928.3 634.4 928.3 637.1 928.3C639.8 928.2 642.4 928.2 645.1 928.2C647.7 928.1 650.4 928.1 653.1 928.0C655.7 927.9 658.4 927.7 661.1 927.6C663.7 927.4 666.4 927.2 669.0 927.0C671.7 926.8 674.4 926.6 677.0 926.4C679.7 926.1 682.4 925.9 685.0 925.6C687.7 925.4 690.3 925.1 693.0 924.9C695.7 924.6 698.3 924.4 701.0 924.1C703.6 923.9 706.3 923.6 709.0 923.4C711.6 923.1 714.3 922.8 717.0 922.5C719.6 922.2 722.3 921.9 724.9 921.6C727.6 921.3 730.3 920.9 732.9 920.6C735.6 920.2 738.3 919.8 740.9 919.5C743.6 919.1 746.2 918.7 748.9 918.3C751.6 918.0 754.2 917.6 756.9 917.2C759.6 916.8 762.2 916.4 764.9 916.0C767.5 915.7 770.2 915.3 772.9 914.9C775.5 914.5 778.2 914.1 780.9 913.7C783.5 913.3 786.2 912.9 788.8 912.5C791.5 912.2 794.2 911.8 796.8 911.4C799.5 911.0 802.2 910.6 804.8 910.2C807.5 909.8 810.1 909.4 812.8 909.0C815.5 908.6 818.1 908.2 820.8 907.8C823.5 907.4 826.1 907.0 828.8 906.6C831.4 906.2 834.1 905.7 836.8 905.3C839.4 904.9 842.1 904.5 844.8 904.0C847.4 903.6 850.1 903.2 852.7 902.7C855.4 902.2 858.1 901.8 860.7 901.3C863.4 900.8 866.1 900.3 868.7 899.8C871.4 899.3 874.0 898.8 876.7 898.3C879.4 897.7 882.0 897.2 884.7 896.7C887.4 896.2 890.0 895.7 892.7 895.2C895.3 894.7 898.0 894.2 900.7 893.7C903.3 893.2 906.0 892.7 908.7 892.3C911.3 891.8 914.0 891.3 916.6 890.9C919.3 890.4 922.0 889.9 924.6 889.5C927.3 889.0 930.0 888.6 932.6 888.1C935.3 887.7 939.3 887.0 940.6 886.8" fill="none" stroke="#2233ee" stroke-width="4.70" stroke-linecap="butt" stroke-linejoin="round"/>
<line x1="190.00" y1="939.40" x2="960.00" y2="939.40" stroke="#3a3a3a" stroke-width="1.00"/>
<path d="M197.8 953.7C199.2 953.5 203.2 953.1 205.9 952.7C208.7 952.3 211.4 951.8 214.1 951.2C216.8 950.6 219.5 949.9 222.2 949.2C224.9 948.5 227.7 947.7 230.4 947.0C233.1 946.2 235.8 945.4 238.5 944.7C241.2 944.0 244.0 943.2 246.7 942.6C249.4 942.0 252.1 941.4 254.8 940.9C257.5 940.4 260.2 939.9 263.0 939.5C265.7 939.0 268.4 938.7 271.1 938.2C273.8 937.8 276.5 937.4 279.2 936.9C282.0 936.5 284.7 936.0 287.4 935.6C290.1 935.1 292.8 934.7 295.5 934.3C298.2 933.8 301.0 933.3 303.7 932.8C306.4 932.3 309.1 931.6 311.8 931.1C314.5 930.5 317.3 929.9 320.0 929.4C322.7 928.9 325.4 928.4 328.1 927.9C330.8 927.5 333.5 927.1 336.3 926.8C339.0 926.6 343.0 926.3 344.4 926.2C345.7 926.2 349.7 926.2 352.4 926.2C355.1 926.2 357.7 926.2 360.4 926.2C363.1 926.2 365.8 926.2 368.4 926.3C371.1 926.3 373.8 926.3 376.4 926.3C379.1 926.3 381.8 926.4 384.4 926.4C387.1 926.4 389.8 926.5 392.4 926.5C395.1 926.5 397.8 926.6 400.5 926.6C403.1 926.6 405.8 926.7 408.5 926.7C411.1 926.7 413.8 926.8 416.5 926.8C419.1 926.8 421.8 926.8 424.5 926.8C427.2 926.8 429.8 926.8 432.5 926.8C435.2 926.8 437.8 926.8 440.5 926.8C443.2 926.8 445.8 926.8 448.5 926.7C451.2 926.7 453.8 926.6 456.5 926.6C459.2 926.5 461.9 926.4 464.5 926.4C467.2 926.3 469.9 926.2 472.5 926.1C475.2 926.0 477.9 926.0 480.5 925.9C483.2 925.8 485.9 925.8 488.5 925.7C491.2 925.7 493.9 925.7 496.6 925.7C499.2 925.7 501.9 925.7 504.6 925.7C507.2 925.8 509.9 925.8 512.6 925.9C515.2 926.0 517.9 926.1 520.6 926.2C523.2 926.4 525.9 926.5 528.6 926.7C531.3 926.9 533.9 927.1 536.6 927.3C539.3 927.5 541.9 927.8 544.6 928.0C547.3 928.2 549.9 928.4 552.6 928.6C555.3 928.7 557.9 928.9 560.6 929.1C563.3 929.3 566.0 929.4 568.6 929.6C571.3 929.7 574.0 929.9 576.6 930.0C579.3 930.1 582.0 930.3 584.6 930.4C587.3 930.5 590.0 930.6 592.7 930.7C595.3 930.9 598.0 931.0 600.7 931.1C603.3 931.2 606.0 931.3 608.7 931.4C611.3 931.5 614.0 931.6 616.7 931.6C619.3 931.7 622.0 931.8 624.7 931.9C627.4 931.9 630.0 931.9 632.7 931.9C635.4 931.9 638.0 931.9 640.7 931.9C643.4 931.8 646.0 931.8 648.7 931.6C651.4 931.5 654.0 931.3 656.7 931.0C659.4 930.8 662.1 930.4 664.7 930.1C667.4 929.8 670.1 929.4 672.7 929.0C675.4 928.6 678.1 928.2 680.7 927.7C683.4 927.3 686.1 926.8 688.7 926.4C691.4 926.0 694.1 925.5 696.8 925.1C699.4 924.7 702.1 924.3 704.8 923.9C707.4 923.5 710.1 923.2 712.8 922.9C715.4 922.5 718.1 922.2 720.8 921.9C723.5 921.6 726.1 921.2 728.8 920.9C731.5 920.6 734.1 920.3 736.8 920.0C739.5 919.7 742.1 919.4 744.8 919.1C747.5 918.8 750.1 918.6 752.8 918.3C755.5 918.0 758.2 917.8 760.8 917.6C763.5 917.3 766.2 917.2 768.8 917.0C771.5 916.9 774.2 916.8 776.8 916.7C779.5 916.6 782.2 916.5 784.8 916.5C787.5 916.4 790.2 916.4 792.9 916.4C795.5 916.3 798.2 916.3 800.9 916.3C803.5 916.3 806.2 916.2 808.9 916.2C811.5 916.2 814.2 916.2 816.9 916.2C819.5 916.1 822.2 916.1 824.9 916.1C827.6 916.1 830.2 916.0 832.9 916.0C835.6 916.0 838.2 916.0 840.9 915.9C843.6 915.9 846.2 915.9 848.9 915.9C851.6 915.9 854.2 915.8 856.9 915.8C859.6 915.8 862.3 915.8 864.9 915.8C867.6 915.8 870.3 915.8 872.9 915.7C875.6 915.7 878.3 915.7 880.9 915.7C883.6 915.7 886.3 915.7 889.0 915.7C891.6 915.7 894.3 915.7 897.0 915.7C899.6 915.7 902.3 915.7 905.0 915.6C907.6 915.6 910.3 915.6 913.0 915.6C915.6 915.6 918.3 915.6 921.0 915.6C923.7 915.6 926.3 915.6 929.0 915.6C931.7 915.6 935.7 915.6 937.0 915.6" fill="none" stroke="#00ee55" stroke-width="4.70" stroke-linecap="butt" stroke-linejoin="round"/>
<rect x="664" y="40" width="271.3" height="190" fill="#fff"/>
<rect x="644.5" y="705" width="337.5" height="100" fill="#fff"/>
<text x="679.3" y="81.8" font-size="18.6" fill="#0d0d0d" font-family="'Liberation Sans', 'Noto Sans CJK JP', sans-serif" textLength="89" lengthAdjust="spacingAndGlyphs">距離 100㎜</text>
<line x1="775" y1="63.4" x2="804" y2="63.4" stroke="#ff0000" stroke-width="3.3"/>
<circle cx="818.5" cy="64.2" r="10.6" fill="url(#gp)"/>
<line x1="811" y1="64.2" x2="826" y2="64.2" stroke="#000" stroke-width="2.0"/>
<line x1="818.5" y1="56.7" x2="818.5" y2="71.7" stroke="#000" stroke-width="2.0"/>
<text x="852.8" y="69.4" font-size="16.3" letter-spacing="0.7" fill="#0d0d0d" font-family="'Liberation Sans', 'Noto Sans CJK JP', sans-serif">除電時間</text>
<line x1="775" y1="90.0" x2="804" y2="90.0" stroke="#806412" stroke-width="3.3"/>
<circle cx="818.5" cy="90.8" r="10.6" fill="url(#gm)"/>
<line x1="811" y1="90.8" x2="826" y2="90.8" stroke="#000" stroke-width="2.0"/>
<text x="852.8" y="96.0" font-size="16.3" letter-spacing="0.7" fill="#0d0d0d" font-family="'Liberation Sans', 'Noto Sans CJK JP', sans-serif">除電時間</text>
<text x="679.3" y="141.8" font-size="18.6" fill="#0d0d0d" font-family="'Liberation Sans', 'Noto Sans CJK JP', sans-serif" textLength="89" lengthAdjust="spacingAndGlyphs">距離 300㎜</text>
<line x1="775" y1="124.4" x2="804" y2="124.4" stroke="#2233ee" stroke-width="3.3"/>
<circle cx="818.5" cy="125.2" r="10.6" fill="url(#gp)"/>
<line x1="811" y1="125.2" x2="826" y2="125.2" stroke="#000" stroke-width="2.0"/>
<line x1="818.5" y1="117.7" x2="818.5" y2="132.7" stroke="#000" stroke-width="2.0"/>
<text x="852.8" y="130.4" font-size="16.3" letter-spacing="0.7" fill="#0d0d0d" font-family="'Liberation Sans', 'Noto Sans CJK JP', sans-serif">除電時間</text>
<line x1="775" y1="150.8" x2="804" y2="150.8" stroke="#22ee22" stroke-width="3.3"/>
<circle cx="818.5" cy="151.6" r="10.6" fill="url(#gm)"/>
<line x1="811" y1="151.6" x2="826" y2="151.6" stroke="#000" stroke-width="2.0"/>
<text x="852.8" y="156.8" font-size="16.3" letter-spacing="0.7" fill="#0d0d0d" font-family="'Liberation Sans', 'Noto Sans CJK JP', sans-serif">除電時間</text>
<text x="679.3" y="201.8" font-size="18.6" fill="#0d0d0d" font-family="'Liberation Sans', 'Noto Sans CJK JP', sans-serif" textLength="89" lengthAdjust="spacingAndGlyphs">距離 600㎜</text>
<line x1="775" y1="183.7" x2="804" y2="183.7" stroke="#e20cfc" stroke-width="3.3"/>
<circle cx="818.5" cy="184.5" r="10.6" fill="url(#gp)"/>
<line x1="811" y1="184.5" x2="826" y2="184.5" stroke="#000" stroke-width="2.0"/>
<line x1="818.5" y1="177.0" x2="818.5" y2="192.0" stroke="#000" stroke-width="2.0"/>
<text x="852.8" y="189.7" font-size="16.3" letter-spacing="0.7" fill="#0d0d0d" font-family="'Liberation Sans', 'Noto Sans CJK JP', sans-serif">除電時間</text>
<line x1="775" y1="210.2" x2="804" y2="210.2" stroke="#ffce3a" stroke-width="3.3"/>
<circle cx="818.5" cy="211.0" r="10.6" fill="url(#gm)"/>
<line x1="811" y1="211.0" x2="826" y2="211.0" stroke="#000" stroke-width="2.0"/>
<text x="852.8" y="216.2" font-size="16.3" letter-spacing="0.7" fill="#0d0d0d" font-family="'Liberation Sans', 'Noto Sans CJK JP', sans-serif">除電時間</text>
<text x="672.9" y="734.2" font-size="18.6" fill="#0d0d0d" font-family="'Liberation Sans', 'Noto Sans CJK JP', sans-serif" textLength="89" lengthAdjust="spacingAndGlyphs">距離 100㎜</text>
<line x1="794" y1="728.2" x2="823" y2="728.2" stroke="#ff0000" stroke-width="4.3"/>
<text x="845" y="734.0" font-size="17" fill="#0d0d0d" font-family="'Liberation Sans', 'Noto Sans CJK JP', sans-serif" textLength="116" lengthAdjust="spacing">イオンバランス</text>
<text x="672.9" y="763.0" font-size="18.6" fill="#0d0d0d" font-family="'Liberation Sans', 'Noto Sans CJK JP', sans-serif" textLength="89" lengthAdjust="spacingAndGlyphs">距離 300㎜</text>
<line x1="794" y1="757.0" x2="823" y2="757.0" stroke="#2233ee" stroke-width="4.3"/>
<text x="845" y="762.8" font-size="17" fill="#0d0d0d" font-family="'Liberation Sans', 'Noto Sans CJK JP', sans-serif" textLength="116" lengthAdjust="spacing">イオンバランス</text>
<text x="672.9" y="791.8" font-size="18.6" fill="#0d0d0d" font-family="'Liberation Sans', 'Noto Sans CJK JP', sans-serif" textLength="89" lengthAdjust="spacingAndGlyphs">距離 600㎜</text>
<line x1="794" y1="785.8" x2="823" y2="785.8" stroke="#00ee55" stroke-width="4.3"/>
<text x="845" y="791.6" font-size="17" fill="#0d0d0d" font-family="'Liberation Sans', 'Noto Sans CJK JP', sans-serif" textLength="116" lengthAdjust="spacing">イオンバランス</text>
<text x="432.3" y="589.8" font-size="20.4" letter-spacing="2.4" fill="#0d0d0d" font-family="'Liberation Sans', 'Noto Sans CJK JP', sans-serif">供給エア圧力（MPa）</text>
<text x="432.3" y="1254.8" font-size="20.4" letter-spacing="2.4" fill="#0d0d0d" font-family="'Liberation Sans', 'Noto Sans CJK JP', sans-serif">供給エア圧力（MPa）</text>
<text x="0" y="0" font-size="20.4" letter-spacing="2.3" fill="#0d0d0d" font-family="'Liberation Sans', 'Noto Sans CJK JP', sans-serif" transform="translate(18.0 350.6) rotate(-90)">除電時間（sec）</text>
<text x="0" y="0" font-size="20.4" letter-spacing="2.3" fill="#0d0d0d" font-family="'Liberation Sans', 'Noto Sans CJK JP', sans-serif" transform="translate(18.0 1037.2) rotate(-90)">イオンバランス（V）</text>
</svg>
</body></html>
